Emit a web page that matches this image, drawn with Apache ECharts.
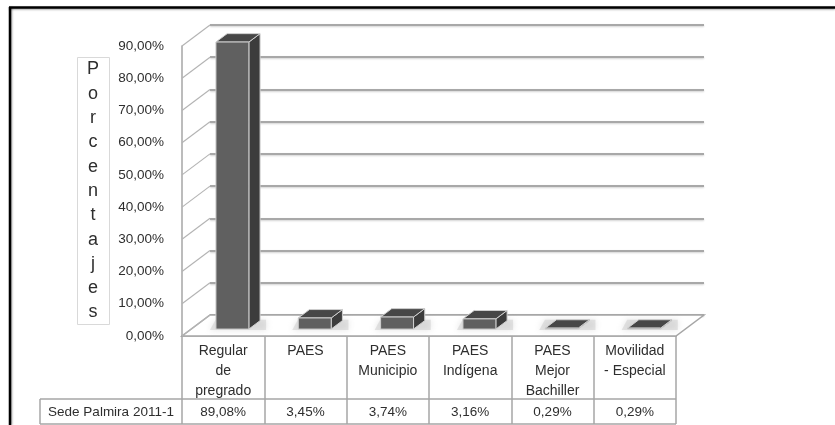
<!DOCTYPE html>
<html>
<head>
<meta charset="utf-8">
<script src="https://cdn.jsdelivr.net/npm/echarts@6/dist/echarts.min.js"></script>
<style>html,body{margin:0;padding:0;background:#fff}#c{width:835px;height:425px}</style>
</head>
<body>
<div id="c"></div>
<script>
// ---- data ----
const categories = ['Regular\nde\npregrado', 'PAES', 'PAES\nMunicipio', 'PAES\nIndígena', 'PAES\nMejor\nBachiller', 'Movilidad\n- Especial'];
const values = [89.08, 3.45, 3.74, 3.16, 0.29, 0.29];
const seriesName = 'Sede Palmira 2011-1';
const yTicks = [0, 10, 20, 30, 40, 50, 60, 70, 80, 90];
const yTitle = 'Porcentajes';

const fmt = v => v.toFixed(2).replace('.', ',') + '%';
const DX = 28, DY = -21; // depth vector
const FONT = '"Liberation Sans", Arial, sans-serif';
const TXT = '#2e2e2e';

const chart = echarts.init(document.getElementById('c'), null, {renderer: 'canvas'});

const option = {
  animation: false,
  backgroundColor: '#ffffff',
  grid: [
    {left: 182, right: 159, top: 46, bottom: 89},
    {left: 210, right: 131, top: 25, bottom: 110}
  ],
  xAxis: [
    {
      type: 'category', gridIndex: 0, data: categories, position: 'bottom',
      axisLine: {show: true, lineStyle: {color: '#a6a6a6', width: 1.5}},
      axisTick: {show: true, alignWithLabel: false, interval: 0, length: 88, lineStyle: {color: '#a6a6a6', width: 1.5}},
      axisLabel: {interval: 0, color: TXT, fontFamily: FONT, fontSize: 14, lineHeight: 20, margin: 5},
      splitLine: {show: false}
    },
    {
      type: 'category', gridIndex: 0, data: values.map(fmt), position: 'bottom',
      axisLine: {show: false}, axisTick: {show: false},
      axisLabel: {interval: 0, color: TXT, fontFamily: FONT, fontSize: 13.5, lineHeight: 20, margin: 66}
    },
    {
      type: 'category', gridIndex: 1, data: categories, show: false
    }
  ],
  yAxis: [
    {
      type: 'value', gridIndex: 0, min: 0, max: 90, interval: 10,
      axisLine: {show: true, lineStyle: {color: '#a6a6a6', width: 1.5}},
      axisTick: {show: false},
      axisLabel: {formatter: fmt, color: TXT, fontFamily: FONT, fontSize: 13.5, margin: 18},
      splitLine: {show: false}
    },
    {
      type: 'value', gridIndex: 1, min: 0, max: 90, interval: 10,
      axisLine: {show: false}, axisTick: {show: false}, axisLabel: {show: false},
      splitLine: {show: true, lineStyle: {color: '#a8a8a8', width: 2, shadowColor: 'rgba(0,0,0,0.18)', shadowBlur: 2, shadowOffsetY: 1}}
    }
  ],
  graphic: [
    // outer frame
    {type: 'line', shape: {x1: 9, y1: 7.5, x2: 835, y2: 7.5}, style: {stroke: '#000', lineWidth: 2.5, shadowColor: 'rgba(0,0,0,0.35)', shadowBlur: 2, shadowOffsetY: 1}},
    {type: 'line', shape: {x1: 10, y1: 7, x2: 10, y2: 425}, style: {stroke: '#000', lineWidth: 2.5, shadowColor: 'rgba(0,0,0,0.35)', shadowBlur: 2, shadowOffsetX: 1}},
    // y title box
    {type: 'rect', shape: {x: 77.5, y: 57.5, width: 32, height: 267}, style: {fill: '#fff', stroke: '#d9d9d9', lineWidth: 1}},
    {type: 'text', x: 93, y: 191, style: {text: yTitle.split('').join('\n'), fill: TXT, font: '18px ' + FONT, lineHeight: 24.3, align: 'center', verticalAlign: 'middle'}},
    // series row header
    {type: 'text', x: 111, y: 412, style: {text: seriesName, fill: TXT, font: '13.5px ' + FONT, align: 'center', verticalAlign: 'middle'}}
  ],
  series: [
    // floor
    {
      type: 'custom', xAxisIndex: 0, yAxisIndex: 0, z: 1, silent: true,
      data: [[0, 0]],
      renderItem: function (params, api) {
        const half = api.size([1, 0])[0] / 2;
        const l = api.coord([0, 0]);
        const r = api.coord([categories.length - 1, 0]);
        const x0 = l[0] - half, x1 = r[0] + half, y = l[1];
        return {type: 'polygon', shape: {points: [[x0, y], [x1, y], [x1 + DX, y + DY], [x0 + DX, y + DY]]},
          style: {fill: '#ffffff', stroke: '#a6a6a6', lineWidth: 1.5}};
      }
    },
    // left wall diagonals
    {
      type: 'custom', xAxisIndex: 0, yAxisIndex: 0, z: 2, silent: true,
      data: yTicks.map(t => [0, t]),
      renderItem: function (params, api) {
        const half = api.size([1, 0])[0] / 2;
        const p = api.coord([0, api.value(1)]);
        const x = p[0] - half;
        return {type: 'line', shape: {x1: x, y1: p[1], x2: x + DX, y2: p[1] + DY},
          style: {stroke: '#b4b4b4', lineWidth: 1.2}};
      }
    },
    // table lines
    {
      type: 'custom', xAxisIndex: 0, yAxisIndex: 0, z: 3, silent: true,
      data: [[0, 0]],
      renderItem: function (params, api) {
        const half = api.size([1, 0])[0] / 2;
        const r = api.coord([categories.length - 1, 0]);
        const y0 = r[1];
        const x1 = r[0] + half;
        const st = {stroke: '#a6a6a6', lineWidth: 1.5};
        return {type: 'group', children: [
          {type: 'line', shape: {x1: 40, y1: y0 + 63, x2: x1, y2: y0 + 63}, style: st},
          {type: 'line', shape: {x1: 40, y1: y0 + 88, x2: x1, y2: y0 + 88}, style: st},
          {type: 'line', shape: {x1: 40, y1: y0 + 63, x2: 40, y2: y0 + 88}, style: st}
        ]};
      }
    },
    // 3D bars
    {
      type: 'custom', name: seriesName, xAxisIndex: 0, yAxisIndex: 0, z: 5,
      data: values.map((v, i) => [i, v]),
      renderItem: function (params, api) {
        const i = api.value(0), v = api.value(1);
        const base = api.coord([i, 0]);
        const top = api.coord([i, v]);
        const bw = api.size([1, 0])[0] * 0.4;
        const fx = DX * 0.33, fy = DY * 0.33;
        const dx = DX * 0.4, dy = DY * 0.4;
        const x0 = base[0] - bw / 2 + fx, x1 = base[0] + bw / 2 + fx;
        const yb = base[1] + fy, yt = top[1] + fy;
        const edge = '#cfcfcf';
        return {type: 'group', children: [
          {type: 'polygon', z2: 0, shape: {points: [[x0 - 6, yb + 1], [x1 + dx + 6, yb + 1], [x1 + dx + 6, yb + dy - 1], [x0 - 6 + dx * 0.5, yb + dy - 1]]},
            style: {fill: 'rgba(200,200,200,0.45)', shadowColor: 'rgba(170,170,170,0.7)', shadowBlur: 6}},
          {type: 'polygon', z2: 1, shape: {points: [[x1, yb], [x1 + dx, yb + dy], [x1 + dx, yt + dy], [x1, yt]]},
            style: {fill: '#3c3c3c', stroke: edge, lineWidth: 1}},
          {type: 'polygon', z2: 2, shape: {points: [[x0, yt], [x1, yt], [x1 + dx, yt + dy], [x0 + dx, yt + dy]]},
            style: {fill: '#474747', stroke: edge, lineWidth: 1}},
          {type: 'rect', z2: 3, shape: {x: x0, y: yt, width: x1 - x0, height: yb - yt},
            style: {fill: '#606060', stroke: edge, lineWidth: 1}}
        ]};
      }
    }
  ]
};
chart.setOption(option);
</script>
</body>
</html>
